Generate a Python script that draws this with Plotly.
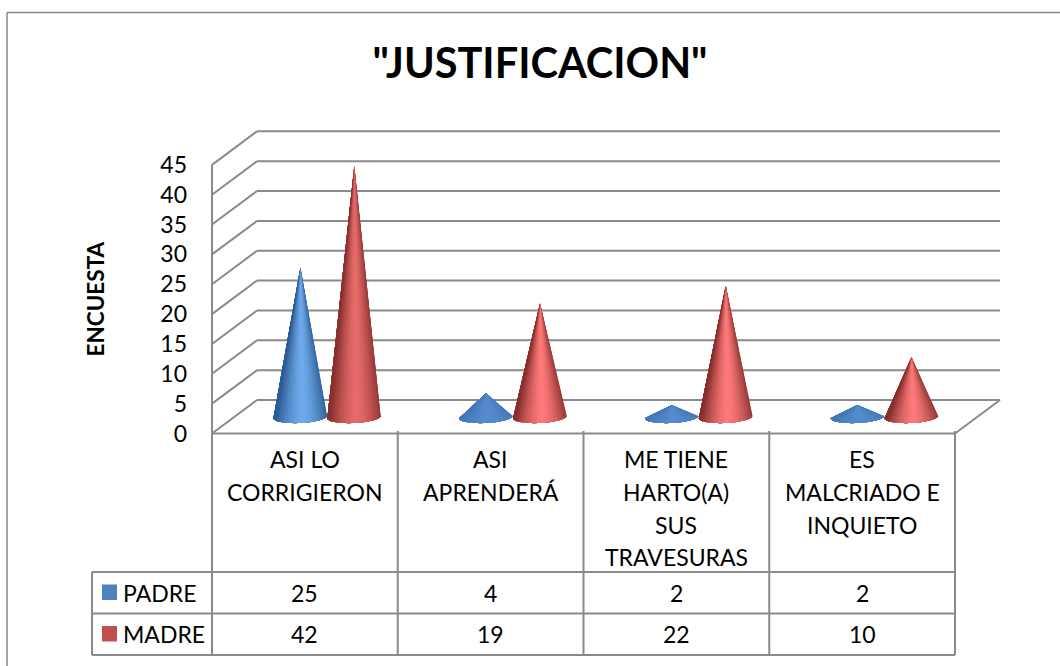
import math
import plotly.graph_objects as go

TITLE = '"JUSTIFICACION"'
AXIS_TITLE = "ENCUESTA"
SERIES = ["PADRE", "MADRE"]
CATEGORY_LINES = [
    ["ASI LO", "CORRIGIERON"],
    ["ASI", "APRENDERÁ"],
    ["ME TIENE", "HARTO(A)", "SUS", "TRAVESURAS"],
    ["ES", "MALCRIADO E", "INQUIETO"],
]
PADRE = [25, 4, 2, 2]
MADRE = [42, 19, 22, 10]
Y_TICKS = [0, 5, 10, 15, 20, 25, 30, 35, 40, 45]

W, H = 1060, 666
FONT = "Lato"
GRID = "#8a8a8a"
BORDER = "#868686"
TXT = "#000000"
SWATCH = ["#4F81BD", "#C0504D"]

# pixel layout of the pseudo-3D box
X0, CAT_W = 212.0, 185.75
Y0, UNIT = 433.5, 5.97
DX = 45.0 / CAT_W          # depth offset, category units
DY = 33.5 / UNIT           # depth offset, value units
PAD = 6.0

left_px, right_px = X0 - PAD, X0 + (4 + DX) * CAT_W + PAD
top_px, bot_px = Y0 - (45 + DY) * UNIT - PAD, Y0 + PAD
x_range = [-PAD / CAT_W, 4 + DX + PAD / CAT_W]
y_range = [-PAD / UNIT, 45 + DY + PAD / UNIT]


def px(v):
    return v / W


def py(v):
    return 1 - v / H


def mix(a, b, t):
    return tuple(a[i] + (b[i] - a[i]) * t for i in range(3))


def css(c):
    return "rgb(%d,%d,%d)" % tuple(round(i) for i in c)


# cone geometry, in axis units
RADIUS = 0.145
GAP = 0.145
CX_OFF = 0.5 + DX / 2
BASE_Y = 2.76
ELL_H = 1.0
TILT = 0.22
STRIPS = 30

DARK = [(44, 92, 146), (135, 48, 46)]
LIGHT = [(112, 170, 236), (255, 122, 122)]
FLAT = [(76, 130, 196), (200, 80, 78)]

fig = go.Figure()
for s, values in enumerate([PADRE, MADRE]):
    for c, v in enumerate(values):
        cx = c + CX_OFF + (-GAP if s == 0 else GAP)
        apex = BASE_Y + v
        flat = 0.75 if v <= 4 else 0.0
        peak = LIGHT[s]
        if v > 30:
            peak = mix(peak, DARK[s], 0.2)
        arc = [math.pi * k / STRIPS for k in range(STRIPS + 1)]
        arc_x = [cx + RADIUS * math.cos(t) for t in arc]
        arc_y = [BASE_Y - ELL_H * math.sin(t) + TILT * math.cos(t) for t in arc]
        for k in range(STRIPS):
            tm = (arc[k] + arc[k + 1]) / 2
            d = abs(math.cos(tm) - 0.08)
            shade = max(0.0, 1 - d ** 1.5)
            col = mix(mix(DARK[s], peak, shade), FLAT[s], flat)
            # each layer runs from this strip to the far edge, so no seams show
            fig.add_trace(
                go.Scatter(
                    x=[cx] + arc_x[k:] + [cx],
                    y=[apex] + arc_y[k:] + [apex],
                    mode="lines",
                    fill="toself",
                    fillcolor=css(col),
                    line=dict(width=0),
                    showlegend=False,
                    hoverinfo="skip",
                )
            )

shapes = []


def line(x0, y0, x1, y1, xref="x", yref="y", color=GRID, width=2):
    shapes.append(
        dict(
            type="line", x0=x0, y0=y0, x1=x1, y1=y1, xref=xref, yref=yref,
            line=dict(color=color, width=width), layer="below",
        )
    )


for v in Y_TICKS:
    line(DX, v + DY, 4 + DX, v + DY)
    line(0, v, DX, v + DY)
line(0, 0, 0, 45)
line(0, 0, 4, 0)
line(4, 0, 4 + DX, DY)

# outer frame
line(px(7), py(666), px(7), py(12.5), "paper", "paper", BORDER, 1.5)
line(px(7), py(12.5), px(1060), py(12.5), "paper", "paper", BORDER, 1.5)

# data table
ROW_TOP, ROW_MID, ROW_BOT = 572.0, 613.5, 655.0
TAB_LEFT = 92.0
for i in range(5):
    xp = X0 + i * CAT_W
    line(px(xp), py(431), px(xp), py(ROW_BOT), "paper", "paper")
for yp in (ROW_TOP, ROW_MID, ROW_BOT):
    line(px(TAB_LEFT), py(yp), px(X0 + 4 * CAT_W), py(yp), "paper", "paper")
line(px(TAB_LEFT), py(ROW_TOP), px(TAB_LEFT), py(ROW_BOT), "paper", "paper")

annotations = []


def text(x, y, s, size=23, xref="paper", anchor="center", bold=False, angle=0):
    annotations.append(
        dict(
            x=x, y=y, text="<b>%s</b>" % s if bold else s, xref=xref, yref="paper",
            showarrow=False, xanchor=anchor, yanchor="middle", textangle=angle,
            font=dict(family=FONT, size=size, color=TXT),
        )
    )


LINE_Y0, LINE_STEP = 459.0, 32.8
for c, lines in enumerate(CATEGORY_LINES):
    for n, ln in enumerate(lines):
        text(c + 0.5, py(LINE_Y0 + n * LINE_STEP), ln, xref="x")

ROW_Y = [592.5, 634.0]
for r, values in enumerate([PADRE, MADRE]):
    for c, v in enumerate(values):
        text(c + 0.5, py(ROW_Y[r]), str(v), xref="x")
    text(px(121), py(ROW_Y[r]), SERIES[r], anchor="left")
    shapes.append(
        dict(
            type="rect", xref="paper", yref="paper",
            x0=px(102), x1=px(117), y0=py(ROW_Y[r] - 8), y1=py(ROW_Y[r] + 7.5),
            fillcolor=SWATCH[r], line=dict(width=0), layer="below",
        )
    )

text(px(95), py(299.5), AXIS_TITLE, size=22.5, bold=True, angle=-90)

fig.update_layout(
    width=W,
    height=H,
    autosize=False,
    margin=dict(l=0, r=0, t=0, b=0),
    paper_bgcolor="white",
    plot_bgcolor="rgba(0,0,0,0)",
    showlegend=False,
    title=dict(
        text="<b>%s</b>" % TITLE,
        x=px(540), y=py(63), xref="paper", yref="paper",
        xanchor="center", yanchor="middle", automargin=False,
        font=dict(family=FONT, size=41.5, color=TXT),
    ),
    xaxis=dict(
        domain=[px(left_px), px(right_px)],
        range=x_range, automargin=False,
        showgrid=False, zeroline=False, showline=False,
        showticklabels=False, ticks="", fixedrange=True,
    ),
    yaxis=dict(
        domain=[py(bot_px), py(top_px)],
        range=y_range, automargin=False,
        tickvals=Y_TICKS,
        showgrid=False, zeroline=False, showline=False,
        ticks="", ticklabelstandoff=18,
        tickfont=dict(family=FONT, size=23, color=TXT),
        fixedrange=True,
    ),
    shapes=shapes,
    annotations=annotations,
)

fig.write_html(
    "out.html",
    config=dict(displayModeBar=False),
    post_script="document.body.style.margin='0';document.documentElement.style.overflow='hidden';",
)
